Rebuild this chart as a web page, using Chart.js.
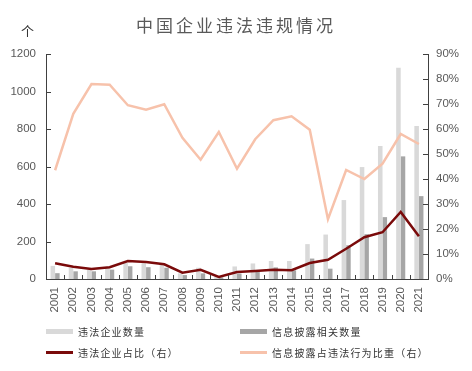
<!DOCTYPE html>
<html>
<head>
<meta charset="utf-8">
<script src="https://cdn.jsdelivr.net/npm/chart.js@4"></script>
<style>
  body { margin: 0; background: #fff; }
  #wrap { position: relative; width: 472px; height: 371px; }
  #title { position: absolute; left: 0; width: 472px; top: 12px; text-align: center;
    font: 17px "Noto Sans CJK SC", sans-serif; color: #595959; letter-spacing: 3px; }
  #unit { position: absolute; left: 21px; top: 21px; font: 13px "Noto Sans CJK SC", sans-serif; color: #333; }
  .leg { position: absolute; font: 10px "Noto Sans CJK SC", sans-serif; color: #333; letter-spacing: 1.2px;
    display: flex; align-items: center; }
  .leg i { display: inline-block; width: 27px; margin-right: 5px; }
</style>
</head>
<body>
<div id="wrap">
  <canvas id="chart" width="472" height="371"></canvas>
  <div id="title">中国企业违法违规情况</div>
  <div id="unit">个</div>
  <div id="legend"></div>
</div>
<script>
window.onload = () => {
    const years = ['2001','2002','2003','2004','2005','2006','2007','2008','2009','2010','2011',
                   '2012','2013','2014','2015','2016','2017','2018','2019','2020','2021'];
    // 违法企业数量 (左轴)
    const illegalCount = [70, 60, 50, 59, 85, 84, 78, 30, 60, 14, 67, 83, 96, 96, 186, 237, 421, 597, 710, 1127, 816];
    // 信息披露相关数量 (左轴)
    const disclosureCount = [31, 41, 41, 50, 68, 63, 60, 21, 30, 9, 29, 44, 62, 46, 109, 55, 180, 239, 330, 654, 442];
    // 违法企业占比 (右轴, %)
    const illegalRatio = [6.3, 4.9, 4.0, 4.7, 7.2, 6.8, 5.9, 2.5, 3.7, 0.8, 2.8, 3.2, 3.7, 3.5, 6.4, 7.7, 12.1, 16.7, 18.7, 26.8, 17.1];
    // 信息披露占违法行为比重 (右轴, %)
    const disclosureRatio = [43.5, 66.1, 78.0, 77.7, 69.5, 67.7, 69.9, 56.5, 47.7, 58.8, 44.1, 55.9, 63.5, 65.1, 59.7, 23.9, 43.6, 40.0, 46.1, 58.0, 54.0];
    const leftTicks = [0, 200, 400, 600, 800, 1000, 1200];
    const rightTicks = [0, 10, 20, 30, 40, 50, 60, 70, 80, 90];

    const axisColor = '#404040';
    const tickFont = { family: 'Liberation Sans', size: 11.5 };

    //Ticks pointing into the plot
    const innerTicks = {
        id: 'innerTicks',
        afterDraw(chart) {
            const ctx = chart.ctx, a = chart.chartArea;
            const x = chart.scales.x, y = chart.scales.y, y1 = chart.scales.y1;
            ctx.save();
            ctx.strokeStyle = axisColor;
            ctx.lineWidth = 1;
            ctx.beginPath();
            for (let i = 1; i < years.length; i++) {
                const px = Math.round(x.getPixelForValue(i - 0.5)) + 0.5;
                ctx.moveTo(px, a.bottom);
                ctx.lineTo(px, a.bottom - 4);
            }
            leftTicks.forEach(v => {
                const py = Math.round(y.getPixelForValue(v)) + 0.5;
                ctx.moveTo(a.left, py);
                ctx.lineTo(a.left + 5, py);
            });
            rightTicks.forEach(v => {
                const py = Math.round(y1.getPixelForValue(v)) + 0.5;
                ctx.moveTo(a.right, py);
                ctx.lineTo(a.right - 5, py);
            });
            ctx.stroke();
            ctx.restore();
        }
    };

    const data = {
        labels: years,
        datasets: [{
            type: 'line',
            label: '违法企业占比（右）',
            data: illegalRatio,
            yAxisID: 'y1',
            borderColor: '#7a0a0a',
            backgroundColor: '#7a0a0a',
            borderWidth: 2.5,
            pointRadius: 0,
            order: 1
        }, {
            type: 'line',
            label: '信息披露占违法行为比重（右）',
            data: disclosureRatio,
            yAxisID: 'y1',
            borderColor: '#f7c2ab',
            backgroundColor: '#f7c2ab',
            borderWidth: 2.5,
            pointRadius: 0,
            order: 2
        }, {
            type: 'bar',
            label: '违法企业数量',
            data: illegalCount,
            yAxisID: 'y',
            backgroundColor: '#d9d9d9',
            categoryPercentage: 0.5,
            barPercentage: 1.0,
            order: 3
        }, {
            type: 'bar',
            label: '信息披露相关数量',
            data: disclosureCount,
            yAxisID: 'y',
            backgroundColor: '#a6a6a6',
            categoryPercentage: 0.5,
            barPercentage: 1.0,
            order: 4
        }]
    };

    const config = {
        data: data,
        options: {
            responsive: false,
            animation: false,
            layout: { padding: { top: 54, left: 0, right: 0, bottom: 52 } },
            plugins: {
                legend: { display: false },
                tooltip: { enabled: false }
            },
            scales: {
                x: {
                    grid: { display: false, drawTicks: false },
                    border: { display: true, color: axisColor },
                    ticks: { color: '#595959', font: tickFont, minRotation: 90, maxRotation: 90, padding: 8, autoSkip: false },
                    afterFit: s => { s.height = 40; }
                },
                y: {
                    position: 'left',
                    min: 0, max: 1200,
                    grid: { display: false, drawTicks: false },
                    border: { display: true, color: axisColor },
                    afterBuildTicks: s => { s.ticks = leftTicks.map(v => ({ value: v })); },
                    ticks: { color: '#595959', font: tickFont, padding: 10, callback: v => String(v) },
                    afterFit: s => { s.width = 46; }
                },
                y1: {
                    position: 'right',
                    min: 0, max: 90,
                    grid: { display: false, drawTicks: false },
                    border: { display: true, color: axisColor },
                    afterBuildTicks: s => { s.ticks = rightTicks.map(v => ({ value: v })); },
                    ticks: { color: '#595959', font: tickFont, padding: 8, callback: v => v + '%' },
                    afterFit: s => { s.width = 44; }
                }
            }
        },
        plugins: [innerTicks]
    };
    new Chart(document.getElementById('chart'), config);

    //Legend
    const legendPos = [
        { ds: 2, left: 46, top: 324, h: 5 },
        { ds: 3, left: 240, top: 324, h: 5 },
        { ds: 0, left: 46, top: 345, h: 2.5 },
        { ds: 1, left: 240, top: 345, h: 2.5 }
    ];
    const legend = document.getElementById('legend');
    legendPos.forEach(p => {
        const d = data.datasets[p.ds];
        const el = document.createElement('div');
        el.className = 'leg';
        el.style.left = p.left + 'px';
        el.style.top = p.top + 'px';
        el.innerHTML = '<i style="height:' + p.h + 'px;background:' + (d.type === 'line' ? d.borderColor : d.backgroundColor) + '"></i>' + d.label;
        legend.appendChild(el);
    });
};
</script>
</body>
</html>
